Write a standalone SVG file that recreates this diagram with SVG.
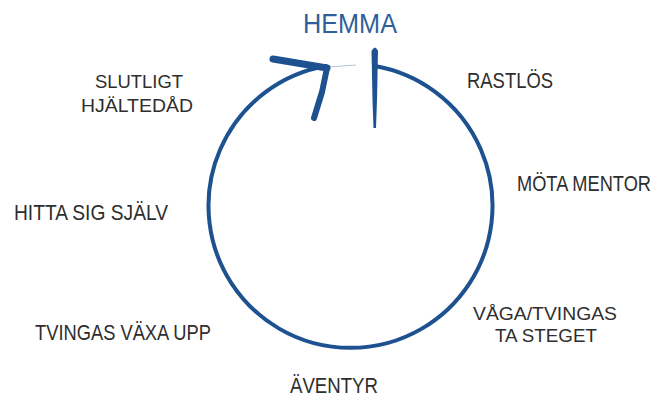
<svg xmlns="http://www.w3.org/2000/svg" width="659" height="398" viewBox="0 0 659 398">
<style>
.lbl{font-family:"Liberation Sans","DejaVu Sans",sans-serif;font-size:22px;fill:#2e2e2e}
.two{font-size:19px}
.home{font-family:"Liberation Sans","DejaVu Sans",sans-serif;font-size:27px;fill:#2f5f9a}
.ring{fill:none;stroke:#1d5190;stroke-width:4;stroke-linecap:round}
.brush{fill:none;stroke:#1d5190;stroke-linecap:round;stroke-linejoin:round}
</style>
<rect width="659" height="398" fill="#ffffff"/>
<g id="connectors">
  <path class="ring" d="M375,66 A142,142 0 1 1 326,66"/>
  <path d="M328,67 L356,65" stroke="#b8c4d4" stroke-width="1" fill="none"/>
  <path class="brush" stroke-width="7" d="M273,59 L327,68"/>
  <path class="brush" stroke-width="6" d="M327,68 L322,92 L314,118"/>
  <path d="M371.5,51 Q375,44 378,51 L377,100 L376,128 L373.5,128 L372.5,100 Z" fill="#1d5190"/>
</g>
<g id="node-hemma"><text class="home" x="303" y="33" textLength="94" lengthAdjust="spacingAndGlyphs">HEMMA</text></g>
<g id="node-rastlos"><text class="lbl" x="467" y="88" textLength="86" lengthAdjust="spacingAndGlyphs">RASTLÖS</text></g>
<g id="node-mota-mentor"><text class="lbl" style="font-size:17px" transform="translate(517,191) scale(1,1.25)" x="0" y="0" textLength="134" lengthAdjust="spacingAndGlyphs">MÖTA MENTOR</text></g>
<g id="node-vaga"><text class="lbl two" x="473" y="320" textLength="144" lengthAdjust="spacingAndGlyphs">VÅGA/TVINGAS</text><text class="lbl two" x="495" y="342" textLength="102" lengthAdjust="spacingAndGlyphs">TA STEGET</text></g>
<g id="node-aventyr"><text class="lbl" x="290" y="393" textLength="88" lengthAdjust="spacingAndGlyphs">ÄVENTYR</text></g>
<g id="node-tvingas"><text class="lbl" x="35" y="340" textLength="176" lengthAdjust="spacingAndGlyphs">TVINGAS VÄXA UPP</text></g>
<g id="node-hitta"><text class="lbl" x="14" y="220" textLength="154" lengthAdjust="spacingAndGlyphs">HITTA SIG SJÄLV</text></g>
<g id="node-slutligt"><text class="lbl two" x="95" y="88" textLength="88" lengthAdjust="spacingAndGlyphs">SLUTLIGT</text><text class="lbl two" x="81" y="112" textLength="112" lengthAdjust="spacingAndGlyphs">HJÄLTEDÅD</text></g>
</svg>
